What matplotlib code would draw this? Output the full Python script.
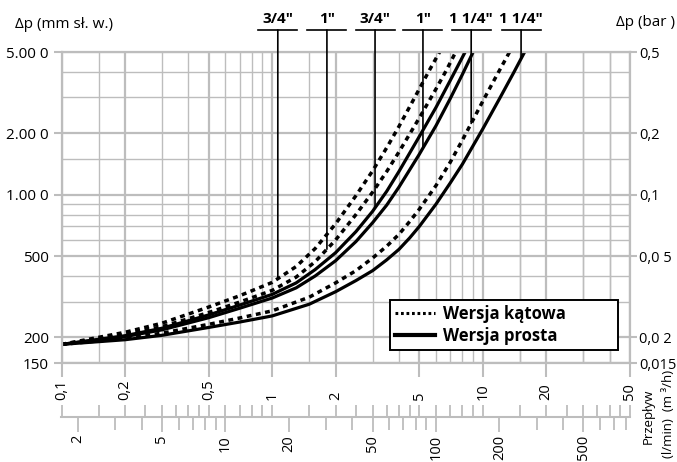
import numpy as np
import matplotlib
matplotlib.use('Agg')
import matplotlib.pyplot as plt
import matplotlib.transforms as mtrans
from matplotlib.lines import Line2D
from matplotlib.ticker import FixedLocator, NullFormatter, NullLocator

plt.rcParams['font.family'] = ['Open Sans', 'DejaVu Sans']

# --- dane: przeplyw (m3/h) -> spadek cisnienia (mm sl. w.) ---
q_k34 = [0.1, 0.2, 0.3, 0.5, 0.7, 1.0, 1.3, 1.6, 2.0, 2.5, 3.0, 3.5, 4.0, 4.5, 5.0, 5.6, 6.24]
dp_k34 = [185, 212, 235, 282, 320, 372, 445, 545, 720, 990, 1310, 1700, 2160, 2700, 3300, 4100, 5000]

q_k1 = [0.1, 0.2, 0.3, 0.5, 0.7, 1.0, 1.3, 1.6, 2.0, 2.5, 3.0, 3.5, 4.0, 5.0, 6.0, 6.7, 7.44]
dp_k1 = [185, 207, 226, 265, 298, 340, 395, 470, 600, 800, 1030, 1300, 1620, 2380, 3300, 4050, 5000]

q_p34 = [0.1, 0.2, 0.3, 0.5, 0.7, 1.0, 1.3, 1.6, 2.0, 2.5, 3.0, 3.5, 4.0, 5.0, 6.0, 7.0, 8.25]
dp_p34 = [185, 204, 222, 258, 288, 325, 370, 430, 520, 660, 830, 1040, 1300, 1930, 2680, 3620, 5000]

q_p1 = [0.1, 0.2, 0.3, 0.5, 0.7, 1.0, 1.3, 1.6, 2.0, 2.5, 3.0, 3.5, 4.0, 5.0, 6.0, 7.0, 8.0, 9.0]
dp_p1 = [185, 202, 218, 250, 278, 312, 350, 400, 475, 590, 730, 890, 1090, 1580, 2180, 2950, 3880, 5000]

q_k114 = [0.1, 0.2, 0.3, 0.5, 0.7, 1.0, 1.5, 2.0, 2.5, 3.0, 3.5, 4.0, 4.5, 5.0, 6.0, 7.0, 8.0, 9.0, 10.0, 11.5, 13.4]
dp_k114 = [185, 198, 210, 232, 249, 270, 315, 370, 425, 490, 560, 640, 740, 850, 1110, 1440, 1850, 2330, 2870, 3750, 5000]

q_p114 = [0.1, 0.2, 0.3, 0.5, 0.7, 1.0, 1.5, 2.0, 2.5, 3.0, 3.5, 4.0, 4.5, 5.0, 6.0, 7.0, 8.0, 10.0, 12.0, 14.0, 15.8]
dp_p114 = [185, 195, 205, 224, 238, 255, 291, 335, 380, 425, 480, 540, 615, 700, 900, 1140, 1410, 2100, 2950, 3950, 5000]

# odnosniki srednic: etykieta, przeplyw w punkcie, krzywa
callout_labels = ['3/4"', '1"', '3/4"', '1"', '1 1/4"', '1 1/4"']
callout_q = [1.064, 1.82, 3.08, 5.2, 8.81, 15.2]
callout_curve = ['k34', 'k1', 'p34', 'p1', 'k114', 'p114']

x_ticks = [0.1, 0.2, 0.5, 1, 2, 5, 10, 20, 50]
x_labels = ['0,1', '0,2', '0,5', '1', '2', '5', '10', '20', '50']
lmin_ticks = [2, 5, 10, 20, 50, 100, 200, 500]
lmin_labels = ['2', '5', '10', '20', '50', '100', '200', '500']
y_ticks = [150, 200, 500, 1000, 2000, 5000]
y_labels = ['150', '200', '500', '1.00 0', '2.00 0', '5.00 0']
y_minor = [300, 400, 600, 700, 800, 900, 1500, 3000, 4000]
bar_ticks = [0.015, 0.02, 0.05, 0.1, 0.2, 0.5]
bar_labels = ['0,015', '0,0 2', '0,0 5', '0,1', '0,2', '0,5']
legend_labels = ['Wersja kątowa', 'Wersja prosta']

curves = {
    'k34': (q_k34, dp_k34, 'dash'), 'k1': (q_k1, dp_k1, 'dash'),
    'p34': (q_p34, dp_p34, 'solid'), 'p1': (q_p1, dp_p1, 'solid'),
    'k114': (q_k114, dp_k114, 'dash'), 'p114': (q_p114, dp_p114, 'solid'),
}

GRID = '#bdbdbd'
fig = plt.figure(figsize=(6.77, 4.62), dpi=100)
L, B, W, H = 61.5 / 677, 1 - 363 / 462, (630 - 61.5) / 677, (363 - 52) / 462
ax = fig.add_axes([L, B, W, H])
ax.set_xscale('log')
ax.set_yscale('log')
ax.set_xlim(0.1, 50)
ax.set_ylim(150, 5000)

x_minor = [d * s for d in [0.1, 1, 10] for s in [1.5, 3, 4, 6, 7, 8, 9] if d * s < 50] + [15, 30, 40]
ax.xaxis.set_major_locator(FixedLocator(x_ticks))
ax.xaxis.set_minor_locator(FixedLocator(x_minor))
ax.xaxis.set_major_formatter(NullFormatter())
ax.xaxis.set_minor_formatter(NullFormatter())
ax.yaxis.set_major_locator(FixedLocator(y_ticks))
ax.yaxis.set_minor_locator(FixedLocator(y_minor))
ax.set_yticklabels(y_labels)
ax.yaxis.set_minor_formatter(NullFormatter())
ax.grid(which='major', color=GRID, lw=1.6)
ax.grid(which='minor', color=GRID, lw=1.0)
ax.set_axisbelow(True)
ax.tick_params(which='minor', length=0)
ax.tick_params(axis='y', which='major', length=6, width=1.5, color=GRID, labelsize=11, pad=3)
ax.tick_params(axis='x', which='major', length=10, width=1.5, color=GRID)
for sp in ax.spines.values():
    sp.set_color(GRID)
    sp.set_linewidth(1.6)

# prawa os w barach
axr = ax.twinx()
axr.set_yscale('log')
axr.set_ylim(0.015, 0.5)
axr.yaxis.set_major_locator(FixedLocator(bar_ticks))
axr.set_yticklabels(bar_labels)
axr.yaxis.set_minor_locator(NullLocator())
axr.tick_params(axis='y', length=5, width=1.5, color=GRID, labelsize=10.5, pad=1.5)
for sp in axr.spines.values():
    sp.set_visible(False)

# krzywe
for key, (q, dp, st) in curves.items():
    if st == 'dash':
        ax.plot(q, dp, color='k', lw=2.5, ls=(0, (1.4, 1.3)), solid_capstyle='butt')
    else:
        ax.plot(q, dp, color='k', lw=2.3)

# odnosniki u gory
trans = mtrans.blended_transform_factory(ax.transData, ax.transAxes)
half = 10 ** (19.5 / 210.5)
for lab, qc, ck in zip(callout_labels, callout_q, callout_curve):
    q, dp, _ = curves[ck]
    yc = 10 ** np.interp(np.log10(qc), np.log10(q), np.log10(dp))
    ax.annotate('', xy=(qc, yc), xycoords='data', xytext=(qc, 1.0707), textcoords=trans,
                arrowprops=dict(arrowstyle='-', lw=1.2, color='k', shrinkA=0, shrinkB=0))
    ax.plot([qc / half, qc * half], [1.0707, 1.0707], transform=trans, color='k', lw=1.2, clip_on=False)
    ax.text(qc, 1.093, lab, transform=trans, ha='center', va='baseline', fontsize=11, fontweight='bold')

# etykiety osi x (m3/h)
for v, s in zip(x_ticks, x_labels):
    ax.text(v, -0.119, s, transform=trans, rotation=90, rotation_mode='anchor',
            ha='left', va='center', fontsize=10.5)

# druga skala: l/min
axb = fig.add_axes([L, 1 - 417 / 462, W, 1e-4], label='lmin')
axb.set_xscale('log')
axb.set_xlim(0.1 * 1000 / 60, 50 * 1000 / 60)
axb.set_yticks([])
axb.patch.set_visible(False)
for k in ['top', 'left', 'right']:
    axb.spines[k].set_visible(False)
axb.spines['bottom'].set_color(GRID)
axb.spines['bottom'].set_linewidth(1.5)
lmin_minor = [d * s for d in [1, 10, 100] for s in range(1, 10) if 1.7 < d * s < 833 and d * s not in lmin_ticks]
axb.xaxis.set_major_locator(FixedLocator(lmin_ticks))
axb.xaxis.set_minor_locator(FixedLocator(lmin_minor))
axb.xaxis.set_major_formatter(NullFormatter())
axb.xaxis.set_minor_formatter(NullFormatter())
axb.tick_params(axis='x', which='major', direction='out', length=11, width=1.3, color=GRID)
axb.tick_params(axis='x', which='minor', direction='out', length=9, width=1.3, color=GRID)

axt = fig.add_axes([L, 1 - 417 / 462, W, 1e-4], label='m3h')
axt.set_xscale('log')
axt.set_xlim(0.1, 50)
axt.set_yticks([])
axt.patch.set_visible(False)
for sp in axt.spines.values():
    sp.set_visible(False)
m3_minor = [d * s for d in [0.1, 1, 10] for s in [1.5, 2.5, 3, 3.5, 4, 4.5, 6, 7, 8, 9] if d * s < 50]
axt.xaxis.set_major_locator(FixedLocator(x_ticks))
axt.xaxis.set_minor_locator(FixedLocator(m3_minor))
axt.xaxis.set_major_formatter(NullFormatter())
axt.xaxis.set_minor_formatter(NullFormatter())
axt.tick_params(axis='x', which='both', direction='out', top=True, bottom=False,
                labeltop=False, labelbottom=False, length=9, width=1.3, color=GRID)

trans_l = mtrans.blended_transform_factory(axb.transData, ax.transAxes)
for v, s in zip(lmin_ticks, lmin_labels):
    ax.text(v, -0.2315, s, transform=trans_l, rotation=90, rotation_mode='anchor',
            ha='right', va='center', fontsize=10.5)

# opisy osi
fig.text(15 / 677, 1 - 25 / 462, 'Δp (mm sł. w.)', ha='left', va='center', fontsize=11)
fig.text(675 / 677, 1 - 22 / 462, 'Δp (bar )', ha='right', va='center', fontsize=11)
fig.text(648 / 677, 1 - 416 / 462, 'Przepływ', rotation=90, ha='center', va='center', fontsize=9.5)
fig.text(668 / 677, 1 - 414 / 462, '(l/min)  (m ³/h)', rotation=90, ha='center', va='center', fontsize=9.5)

# legenda
handles = [Line2D([0], [0], color='k', lw=2.2, ls=(0, (0.9, 0.9))),
           Line2D([0], [0], color='k', lw=3)]
leg = ax.legend(handles, legend_labels, loc='lower left', bbox_to_anchor=(0.578, 0.042, 0.401, 0.17),
                mode='expand', prop={'weight': 'bold', 'size': 12}, frameon=True, fancybox=False,
                edgecolor='k', framealpha=1, borderpad=0.3, handlelength=2.4, handletextpad=0.5,
                labelspacing=0.25, borderaxespad=0)
leg.get_frame().set_linewidth(1.4)
leg.set_zorder(10)

fig.savefig('out.png', dpi=100)
